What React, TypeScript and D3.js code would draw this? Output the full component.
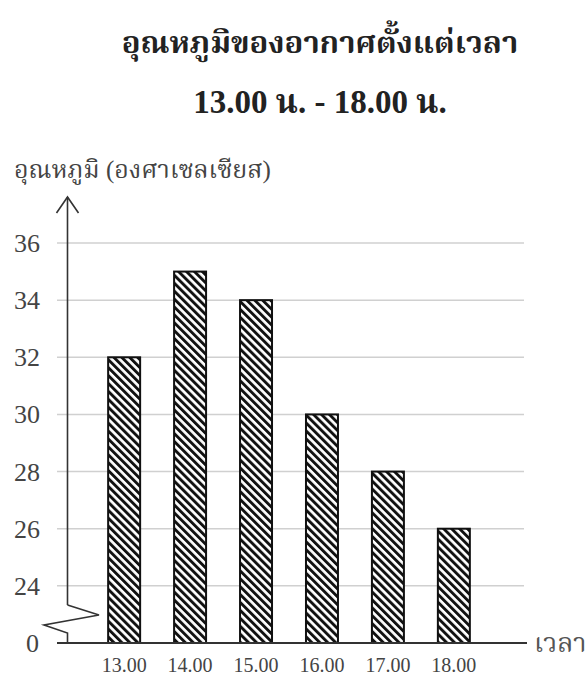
import React from "react";
import * as d3 from "d3";

const times = ["13.00", "14.00", "15.00", "16.00", "17.00", "18.00"];
const temps = [32, 35, 34, 30, 28, 26];
const tickValues = [24, 26, 28, 30, 32, 34, 36];
const titleLine1 = "อุณหภูมิของอากาศตั้งแต่เวลา";
const titleLine2 = "13.00 น. - 18.00 น.";
const yLabel = "อุณหภูมิ (องศาเซลเซียส)";
const xLabel = "เวลา";
const breakValue = 22; // position where "0" is shown (axis break)

const W = 588;
const H = 679;
const FONT = "Liberation Serif, Noto Serif Thai, Noto Sans Thai, serif";

export default function App() {
  const y = d3.scaleLinear().domain([breakValue, 36]).range([643, 243]);
  const x = d3.scaleBand<string>().domain(times).range([91, 487]).paddingInner(0.515).paddingOuter(0.26);
  const axisX = 67.5;
  const base = y(breakValue);
  const gridLeft = 57;
  const gridRight = 524;

  return (
    <svg width={W} height={H} style={{ position: "absolute", left: 0, top: 0, background: "#fff" }}>
      <defs>
        <pattern id="hatch" patternUnits="userSpaceOnUse" width={5.6} height={10} patternTransform="rotate(-45)">
          <rect x={0} y={0} width={5.6} height={10} fill="#fff" />
          <rect x={0} y={0} width={2.9} height={10} fill="#111" />
        </pattern>
      </defs>
      <rect x={0} y={0} width={W} height={H} fill="#fff" />
      <text x={320} y={53} textAnchor="middle" fontFamily={FONT} fontWeight="bold" fontSize={31} fill="#222">
        {titleLine1}
      </text>
      <text x={320} y={113} textAnchor="middle" fontFamily={FONT} fontWeight="bold" fontSize={33} fill="#222">
        {titleLine2}
      </text>
      <text x={14} y={178} fontFamily={FONT} fontSize={25} fill="#444">
        {yLabel}
      </text>
      {tickValues.map((t) => (
        <line key={"g" + t} x1={gridLeft} x2={gridRight} y1={y(t)} y2={y(t)} stroke="#d0d0d0" strokeWidth={1.5} />
      ))}
      {tickValues.map((t) => (
        <text key={"t" + t} x={40} y={y(t) + 9} textAnchor="end" fontFamily={FONT} fontSize={26} fill="#444">
          {t}
        </text>
      ))}
      <text x={39} y={base + 9} textAnchor="end" fontFamily={FONT} fontSize={26} fill="#444">
        0
      </text>
      {/* y axis with arrow and break */}
      <line x1={axisX} x2={axisX} y1={197} y2={605} stroke="#333" strokeWidth={1.6} />
      <path d={`M${axisX - 11},213 L${axisX},197 L${axisX + 11},213`} fill="none" stroke="#333" strokeWidth={1.6} />
      <path
        d={`M${axisX},605 L99,615 L44,625 L${axisX},633 L${axisX},${base}`}
        fill="none"
        stroke="#333"
        strokeWidth={1.6}
        strokeLinejoin="miter"
      />
      {times.map((t, i) => (
        <rect
          key={"b" + t}
          x={x(t)}
          y={y(temps[i])}
          width={x.bandwidth()}
          height={base - y(temps[i])}
          fill="url(#hatch)"
          stroke="#111"
          strokeWidth={2}
        />
      ))}
      <line x1={gridLeft} x2={527} y1={base} y2={base} stroke="#333" strokeWidth={1.8} />
      {times.map((t) => (
        <text key={"x" + t} x={(x(t) as number) + x.bandwidth() / 2} y={672} textAnchor="middle" fontFamily={FONT} fontSize={20} fill="#444">
          {t}
        </text>
      ))}
      <text x={534} y={652} fontFamily={FONT} fontSize={27} fill="#555">
        {xLabel}
      </text>
    </svg>
  );
}
